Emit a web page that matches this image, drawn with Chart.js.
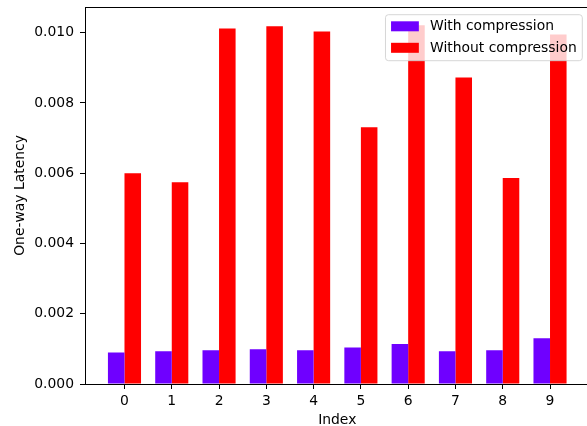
<!DOCTYPE html>
<html>
<head>
<meta charset="utf-8">
<script src="https://cdn.jsdelivr.net/npm/chart.js@4/dist/chart.umd.min.js"></script>
<style>
  html, body { margin: 0; padding: 0; background: #fff; overflow: hidden; }
  #wrap { width: 640px; height: 426px; }
</style>
</head>
<body>
<div id="wrap"><canvas id="latencyChart" width="640" height="426"></canvas></div>
<script>
// values
var categories = ["0", "1", "2", "3", "4", "5", "6", "7", "8", "9"];
var withCompression = [0.00090, 0.00093, 0.00096, 0.00099, 0.00096, 0.00104, 0.00114, 0.00093, 0.00096, 0.00130];
var withoutCompression = [0.00600, 0.00574, 0.01012, 0.01018, 0.01003, 0.00731, 0.01021, 0.00872, 0.00586, 0.00995];
var yTicks = [0, 0.002, 0.004, 0.006, 0.008, 0.010];

var FONT = "'DejaVu Sans', sans-serif";
var FSIZE = 13.9;

function points(vals) {
    return vals.map(function (v, i) { return { x: i, y: v }; });
}

// matplotlib-like legend box drawn inside the plot area, over the bars
var boxLegend = {
    id: 'boxLegend',
    afterDatasetsDraw: function (chart) {
        var ctx = chart.ctx;
        var area = chart.chartArea;
        var sets = chart.data.datasets;
        ctx.save();
        ctx.font = FSIZE + 'px ' + FONT;
        var textW = 0;
        sets.forEach(function (d) { textW = Math.max(textW, ctx.measureText(d.label).width); });
        var pad = 0.4 * FSIZE, handle = 2 * FSIZE, gap = 0.8 * FSIZE, rowH = 21.5;
        var w = pad * 2 + handle + gap + textW;
        var h = 46;
        var x = area.right - 7.2 - w;
        var y = area.top + 7.7;
        ctx.beginPath();
        ctx.roundRect(x, y, w, h, 3);
        ctx.fillStyle = 'rgba(255,255,255,0.8)';
        ctx.fill();
        ctx.strokeStyle = 'rgba(204,204,204,0.8)';
        ctx.lineWidth = 1;
        ctx.stroke();
        ctx.textBaseline = 'middle';
        sets.forEach(function (d, i) {
            var cy = y + 11.6 + i * rowH;
            ctx.fillStyle = d.backgroundColor;
            ctx.fillRect(x + pad, cy - 5, handle, 10);
            ctx.fillStyle = '#000';
            ctx.fillText(d.label, x + pad + handle + gap, cy + 0.5);
        });
        ctx.restore();
    },
    afterDraw: function (chart) {
        var ctx = chart.ctx;
        var area = chart.chartArea;
        ctx.save();
        // keep the strip right of the legend empty, like the reference
        ctx.fillStyle = '#fff';
        ctx.fillRect(583.5, area.top + 1, chart.width - 583.5, area.bottom - area.top - 1.5);
        // top spine
        ctx.strokeStyle = '#000';
        ctx.lineWidth = 1;
        ctx.beginPath();
        ctx.moveTo(area.left, area.top + 0.5);
        ctx.lineTo(area.right, area.top + 0.5);
        ctx.stroke();
        ctx.restore();
    }
};

var chart = new Chart(document.getElementById('latencyChart'), {
    type: 'bar',
    data: {
        datasets: [{
            label: 'With compression',
            data: points(withCompression),
            backgroundColor: '#6f00ff'
        }, {
            label: 'Without compression',
            data: points(withoutCompression),
            backgroundColor: '#ff0000'
        }]
    },
    options: {
        responsive: false,
        animation: false,
        devicePixelRatio: 1,
        categoryPercentage: 0.7,
        barPercentage: 1.0,
        layout: { padding: { left: 0, top: 7, right: 50.5, bottom: 0 } },
        plugins: {
            legend: { display: false },
            tooltip: { enabled: false }
        },
        scales: {
            x: {
                type: 'linear',
                offset: false,
                min: -0.835,
                max: 9.835,
                afterBuildTicks: function (scale) {
                    scale.ticks = categories.map(function (c, i) { return { value: i }; });
                },
                afterFit: function (scale) {
                    scale.height = 42;
                    scale.paddingLeft = 0;
                    scale.paddingRight = 0;
                },
                ticks: {
                    callback: function (v) { return categories[v]; },
                    color: '#000',
                    padding: 4,
                    maxRotation: 0,
                    font: { family: FONT, size: FSIZE }
                },
                grid: { offset: false, drawOnChartArea: false, drawTicks: true, tickLength: 5, color: '#000' },
                border: { display: true, color: '#000', width: 1 },
                title: {
                    display: true,
                    text: 'Index',
                    color: '#000',
                    padding: { top: 0, bottom: -2.5 },
                    font: { family: FONT, size: FSIZE }
                }
            },
            y: {
                min: 0,
                max: 0.01073,
                afterBuildTicks: function (scale) {
                    scale.ticks = yTicks.map(function (v) { return { value: v }; });
                },
                afterFit: function (scale) {
                    scale.width = 85;
                    scale.paddingTop = 0;
                    scale.paddingBottom = 0;
                },
                ticks: {
                    callback: function (v) { return v.toFixed(3); },
                    color: '#000',
                    padding: 6,
                    font: { family: FONT, size: FSIZE }
                },
                grid: { drawOnChartArea: false, drawTicks: true, tickLength: 5, color: '#000' },
                border: { display: true, color: '#000', width: 1 },
                title: {
                    display: true,
                    text: 'One-way Latency',
                    color: '#000',
                    padding: { top: 11.7, bottom: 0 },
                    font: { family: FONT, size: FSIZE }
                }
            }
        }
    },
    plugins: [boxLegend]
});
</script>
</body>
</html>
